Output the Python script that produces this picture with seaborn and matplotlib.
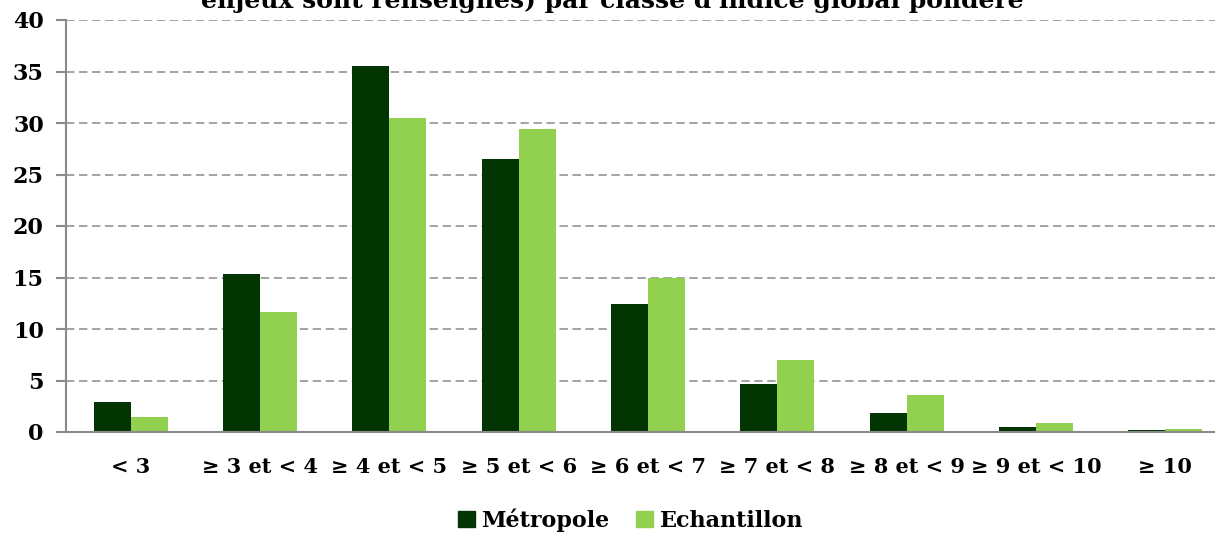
import matplotlib
matplotlib.use("Agg")
import matplotlib.pyplot as plt
import seaborn as sns
import pandas as pd

categories = ["< 3", "≥ 3 et < 4", "≥ 4 et < 5", "≥ 5 et < 6", "≥ 6 et < 7",
              "≥ 7 et < 8", "≥ 8 et < 9", "≥ 9 et < 10", "≥ 10"]
metropole = [2.9, 15.3, 35.5, 26.5, 12.45, 4.67, 1.83, 0.5, 0.17]
echantillon = [1.46, 11.66, 30.5, 29.4, 14.97, 6.95, 3.6, 0.87, 0.3]
series = ["Métropole", "Echantillon"]
colors = ["#033503", "#92d050"]

df = pd.DataFrame({
    "classe": categories * 2,
    "valeur": metropole + echantillon,
    "serie": [series[0]] * len(categories) + [series[1]] * len(categories),
})

sns.set_style("white")
plt.rcParams["font.family"] = ["DejaVu Serif"]
plt.rcParams["font.weight"] = "bold"
plt.rcParams["text.color"] = "black"
plt.rcParams["xtick.color"] = "black"
plt.rcParams["ytick.color"] = "black"

fig = plt.figure(figsize=(12.15, 5.33), dpi=100)
ax = fig.add_axes([66 / 1215, 1 - 432 / 533, (1230 - 66) / 1215, (432 - 20) / 533])

sns.barplot(data=df, x="classe", y="valeur", hue="serie", palette=colors,
            width=0.57, gap=0, saturation=1, edgecolor="none", ax=ax,
            legend=False)

ax.set_xlim(-0.5, 8.5)
ax.set_ylim(0, 40)
ax.set_yticks(range(0, 41, 5))
ax.yaxis.grid(True, linestyle=(0, (5.5, 3)), color="#8a8a8a", linewidth=1.1)
ax.set_axisbelow(True)
ax.set_xlabel("")
ax.set_ylabel("")

for s in ["top", "right"]:
    ax.spines[s].set_visible(False)
for s in ["left", "bottom"]:
    ax.spines[s].set_color("#8a8a8a")
    ax.spines[s].set_linewidth(1.5)

ax.set_xticks([i + 0.5 for i in range(-1, 9)], minor=True)
ax.tick_params(axis="x", which="major", length=0, pad=18, labelsize=15, labelcolor="black")
ax.tick_params(axis="x", which="minor", length=6, width=1.5, color="#8a8a8a")
ax.tick_params(axis="y", length=7, width=1.5, color="#8a8a8a", pad=9, labelsize=16,
               left=True, labelcolor="black")
for lab in ax.get_xticklabels() + ax.get_yticklabels():
    lab.set_fontweight("bold")

handles = [plt.Rectangle((0, 0), 1, 1, color=c) for c in colors]
fig.legend(handles, series, loc="center", bbox_to_anchor=(0.519, 1 - 520 / 533),
           ncol=2, frameon=False, prop={"weight": "bold", "size": 16},
           handlelength=0.75, handleheight=0.75, handletextpad=0.3, columnspacing=1.2)

fig.text(0.504, 1 - 8 / 533, "enjeux sont renseignés) par classe d'indice global pondéré",
         ha="center", va="baseline", fontsize=18, fontweight="bold")

fig.savefig("out.png", dpi=100)
